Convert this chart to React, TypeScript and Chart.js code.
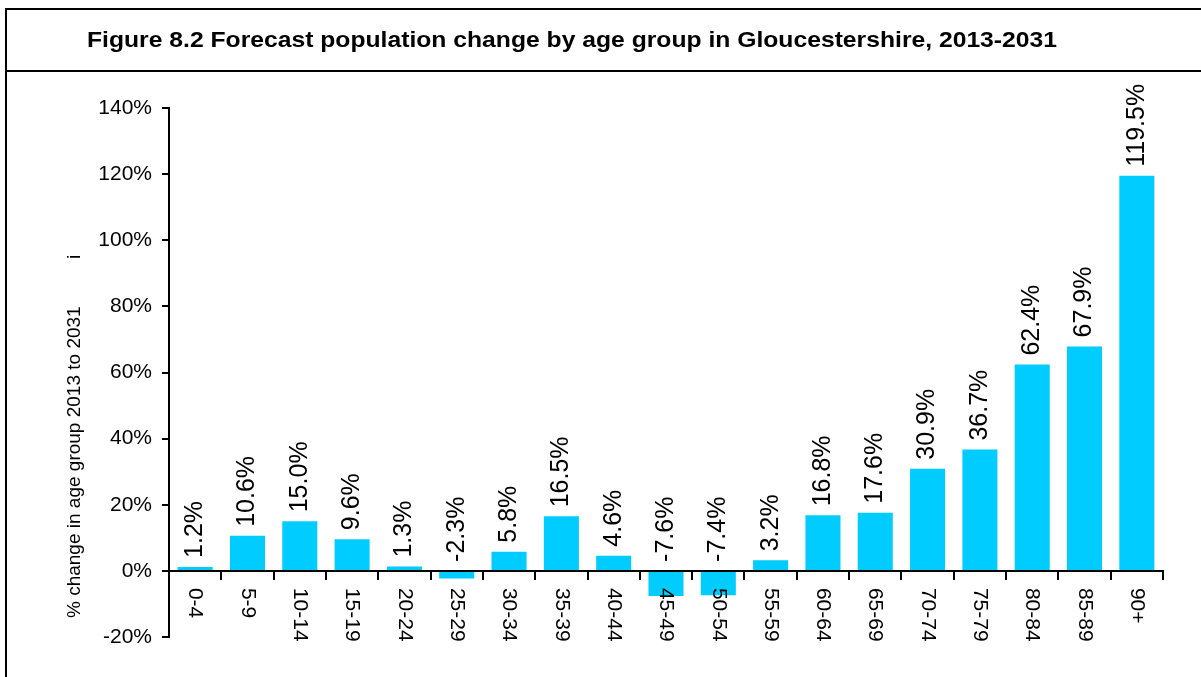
import React, { useEffect, useRef } from 'react';
import { Chart, registerables } from 'chart.js';

Chart.register(...registerables);

const TITLE = 'Figure 8.2 Forecast population change by age group in Gloucestershire, 2013-2031';
const Y_TITLE = '% change in age group 2013 to 2031';
const Y_TITLE_EXTRA = 'i';
const AGE_GROUPS = ['0-4', '5-9', '10-14', '15-19', '20-24', '25-29', '30-34', '35-39', '40-44', '45-49', '50-54', '55-59', '60-64', '65-69', '70-74', '75-79', '80-84', '85-89', '90+'];
const CHANGE_PCT = [1.2, 10.6, 15.0, 9.6, 1.3, -2.3, 5.8, 16.5, 4.6, -7.6, -7.4, 3.2, 16.8, 17.6, 30.9, 36.7, 62.4, 67.9, 119.5];
const Y_MIN = -20;
const Y_MAX = 140;
const Y_STEP = 20;

const FONT = '"Liberation Sans", Arial, Helvetica, sans-serif';
const BAR_COLOR = '#00CCFF';

const decorPlugin = {
  id: 'decor',
  afterDraw(chart: any) {
    const ctx = chart.ctx as CanvasRenderingContext2D;
    const area = chart.chartArea;
    const xs = chart.scales.x;
    const ys = chart.scales.y;
    const W = chart.width;
    const H = chart.height;
    ctx.save();
    // frame
    ctx.strokeStyle = '#000';
    ctx.lineWidth = 2;
    ctx.beginPath();
    ctx.moveTo(6, H + 2);
    ctx.lineTo(6, 9);
    ctx.lineTo(W + 2, 9);
    ctx.moveTo(6, 71);
    ctx.lineTo(W + 2, 71);
    ctx.stroke();

    // title
    ctx.fillStyle = '#000';
    ctx.font = `bold 22px ${FONT}`;
    const tw = ctx.measureText(TITLE).width;
    const sx = 970 / tw;
    ctx.save();
    ctx.translate(572, 47);
    ctx.scale(sx, 1);
    ctx.textAlign = 'center';
    ctx.textBaseline = 'alphabetic';
    ctx.fillText(TITLE, 0, 0);
    ctx.restore();

    // y axis title
    ctx.font = `19px ${FONT}`;
    ctx.save();
    ctx.translate(area.left - 94, area.bottom - 19);
    ctx.rotate(-Math.PI / 2);
    ctx.textAlign = 'left';
    ctx.textBaseline = 'middle';
    ctx.fillText(Y_TITLE, 0, 0);
    ctx.restore();
    ctx.save();
    ctx.translate(area.left - 94, ys.getPixelForValue(95));
    ctx.rotate(-Math.PI / 2);
    ctx.textAlign = 'center';
    ctx.textBaseline = 'middle';
    ctx.fillText(Y_TITLE_EXTRA, 0, 0);
    ctx.restore();

    // x category labels (rotated clockwise, below the zero line)
    const zeroY = ys.getPixelForValue(0);
    ctx.font = `21px ${FONT}`;
    AGE_GROUPS.forEach((lab, i) => {
      const x = xs.getPixelForValue(i);
      ctx.save();
      ctx.translate(x, zeroY + 17);
      ctx.rotate(Math.PI / 2);
      ctx.textAlign = 'left';
      ctx.textBaseline = 'middle';
      ctx.fillText(lab, 0, 0);
      ctx.restore();
    });

    // data labels
    const meta = chart.getDatasetMeta(0);
    ctx.font = `25px ${FONT}`;
    meta.data.forEach((bar: any, i: number) => {
      const v = CHANGE_PCT[i];
      const y = ys.getPixelForValue(Math.max(v, 0)) - 9;
      ctx.save();
      ctx.translate(bar.x, y);
      ctx.rotate(-Math.PI / 2);
      ctx.textAlign = 'left';
      ctx.textBaseline = 'middle';
      ctx.fillText(v.toFixed(1) + '%', 0, 0);
      ctx.restore();
    });
    ctx.restore();
  },
};

export default function App() {
  const ref = useRef<HTMLCanvasElement | null>(null);
  useEffect(() => {
    if (!ref.current) return;
    const chart = new Chart(ref.current, {
      type: 'bar',
      data: {
        labels: AGE_GROUPS,
        datasets: [
          {
            data: CHANGE_PCT,
            backgroundColor: BAR_COLOR,
            borderWidth: 0,
            barPercentage: 0.67,
            categoryPercentage: 1,
          },
        ],
      },
      options: {
        responsive: false,
        animation: false,
        devicePixelRatio: 1,
        layout: { padding: { left: 69, right: 38, top: 108, bottom: 40 } },
        plugins: {
          legend: { display: false },
          tooltip: { enabled: false },
          title: { display: false },
        },
        scales: {
          x: {
            type: 'category',
            position: { y: 0 } as any,
            offset: true,
            z: 1,
            grid: {
              offset: true,
              drawOnChartArea: false,
              drawTicks: true,
              tickLength: 8,
              color: '#000',
              lineWidth: 2,
            },
            border: { display: true, color: '#000', width: 2 },
            ticks: { display: false },
          },
          y: {
            min: Y_MIN,
            max: Y_MAX,
            ticks: {
              stepSize: Y_STEP,
              color: '#000',
              padding: 10,
              font: { family: FONT, size: 21 },
              callback: (v: any) => `${v}%`,
            },
            grid: {
              drawOnChartArea: false,
              drawTicks: true,
              tickLength: 7,
              color: '#000',
              lineWidth: 2,
            },
            border: { display: true, color: '#000', width: 2 },
            afterFit: (s: any) => {
              s.width = 100;
            },
          },
        },
      },
      plugins: [decorPlugin],
    });
    return () => chart.destroy();
  }, []);
  return (
    <div style={{ position: 'fixed', left: 0, top: 0, width: 1201, height: 677, background: '#fff' }}>
      <canvas ref={ref} width={1201} height={677} style={{ display: 'block' }} />
    </div>
  );
}
